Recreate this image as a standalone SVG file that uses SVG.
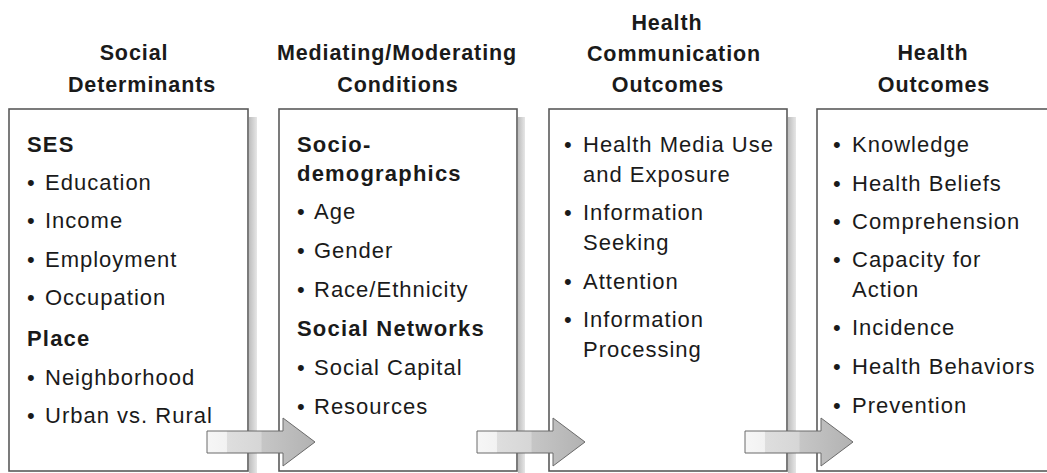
<svg xmlns="http://www.w3.org/2000/svg" width="1047" height="473" viewBox="0 0 1047 473">
  <style>
    .hdr { font-family: "Liberation Sans", Arial, sans-serif; font-weight: bold; font-size: 21.5px; letter-spacing: 0.9px; fill: #1a1a1a; text-anchor: middle; }
    .item { font-family: "Liberation Sans", Arial, sans-serif; font-size: 22px; letter-spacing: 1px; fill: #1a1a1a; }
    .sub { font-family: "Liberation Sans", Arial, sans-serif; font-weight: bold; font-size: 22px; letter-spacing: 1.2px; fill: #1a1a1a; }
    .box { fill: #ffffff; stroke: #5a5a5a; stroke-width: 1.6; }
    .shadow { fill: url(#shadowGrad); }
    .arrow { fill: url(#arrowGrad); stroke: #6a6a6a; stroke-width: 1; stroke-linejoin: miter; }
  </style>
  <defs>
    <linearGradient id="shadowGrad" x1="0" y1="0" x2="1" y2="0">
      <stop offset="0" stop-color="#bdbdbd"/>
      <stop offset="1" stop-color="#e6e6e6"/>
    </linearGradient>
    <linearGradient id="arrowGrad" x1="0" y1="0" x2="1" y2="0">
      <stop offset="0" stop-color="#f6f6f6"/>
      <stop offset="0.18" stop-color="#f2f2f2"/>
      <stop offset="0.19" stop-color="#dedede"/>
      <stop offset="0.5" stop-color="#d6d6d6"/>
      <stop offset="0.51" stop-color="#c6c6c6"/>
      <stop offset="1" stop-color="#b2b2b2"/>
    </linearGradient>
    <path id="arrowShape" d="M0,0 H76 V-13 L108,11 L76,35 V22 H0 Z"/>
  </defs>

  <rect width="1047" height="473" fill="#ffffff"/>

  <!-- column headings -->
  <text class="hdr" x="134" y="60">Social</text>
  <text class="hdr" x="142" y="92">Determinants</text>
  <text class="hdr" x="397" y="60">Mediating/Moderating</text>
  <text class="hdr" x="398" y="92">Conditions</text>
  <text class="hdr" x="667" y="30">Health</text>
  <text class="hdr" x="674" y="61">Communication</text>
  <text class="hdr" x="668" y="92">Outcomes</text>
  <text class="hdr" x="933" y="60">Health</text>
  <text class="hdr" x="934" y="92">Outcomes</text>

  <!-- Social Determinants -->
  <g id="social-determinants">
    <rect class="shadow" x="249" y="117" width="8" height="356"/>
    <rect class="box" x="9" y="109" width="239" height="362"/>
    <text class="sub" x="27" y="152">SES</text>
    <text class="item" x="27" y="190">•<tspan x="45">Education</tspan></text>
    <text class="item" x="27" y="228">•<tspan x="45">Income</tspan></text>
    <text class="item" x="27" y="267">•<tspan x="45">Employment</tspan></text>
    <text class="item" x="27" y="305">•<tspan x="45">Occupation</tspan></text>
    <text class="sub" x="27" y="346">Place</text>
    <text class="item" x="27" y="385">•<tspan x="45">Neighborhood</tspan></text>
    <text class="item" x="27" y="423">•<tspan x="45">Urban vs. Rural</tspan></text>
  </g>

  <!-- Mediating/Moderating Conditions -->
  <g id="mediating-conditions">
    <rect class="shadow" x="518" y="117" width="7" height="356"/>
    <rect class="box" x="279" y="109" width="238" height="362"/>
    <text class="sub" x="297" y="152">Socio-</text>
    <text class="sub" x="297" y="181">demographics</text>
    <text class="item" x="297" y="219">•<tspan x="314">Age</tspan></text>
    <text class="item" x="297" y="258">•<tspan x="314">Gender</tspan></text>
    <text class="item" x="297" y="297">•<tspan x="314">Race/Ethnicity</tspan></text>
    <text class="sub" x="297" y="336">Social Networks</text>
    <text class="item" x="297" y="375">•<tspan x="314">Social Capital</tspan></text>
    <text class="item" x="297" y="414">•<tspan x="314">Resources</tspan></text>
  </g>

  <!-- Health Communication Outcomes -->
  <g id="communication-outcomes">
    <rect class="shadow" x="788" y="117" width="8" height="356"/>
    <rect class="box" x="549" y="109" width="238" height="362"/>
    <text class="item" x="564" y="152">•<tspan x="583">Health Media Use</tspan></text>
    <text class="item" x="583" y="182">and Exposure</text>
    <text class="item" x="564" y="220">•<tspan x="583">Information</tspan></text>
    <text class="item" x="583" y="250">Seeking</text>
    <text class="item" x="564" y="289">•<tspan x="583">Attention</tspan></text>
    <text class="item" x="564" y="327">•<tspan x="583">Information</tspan></text>
    <text class="item" x="583" y="357">Processing</text>
  </g>

  <!-- Health Outcomes -->
  <g id="health-outcomes">
    <rect class="box" x="817" y="109" width="240" height="362"/>
    <text class="item" x="833" y="152">•<tspan x="852">Knowledge</tspan></text>
    <text class="item" x="833" y="191">•<tspan x="852">Health Beliefs</tspan></text>
    <text class="item" x="833" y="229">•<tspan x="852">Comprehension</tspan></text>
    <text class="item" x="833" y="267">•<tspan x="852">Capacity for</tspan></text>
    <text class="item" x="852" y="297">Action</text>
    <text class="item" x="833" y="335">•<tspan x="852">Incidence</tspan></text>
    <text class="item" x="833" y="374">•<tspan x="852">Health Behaviors</tspan></text>
    <text class="item" x="833" y="413">•<tspan x="852">Prevention</tspan></text>
  </g>

  <!-- block arrows between columns -->
  <g id="connectors">
    <use href="#arrowShape" class="arrow" x="207" y="431"/>
    <use href="#arrowShape" class="arrow" x="477" y="431"/>
    <use href="#arrowShape" class="arrow" x="745" y="431"/>
  </g>
</svg>
